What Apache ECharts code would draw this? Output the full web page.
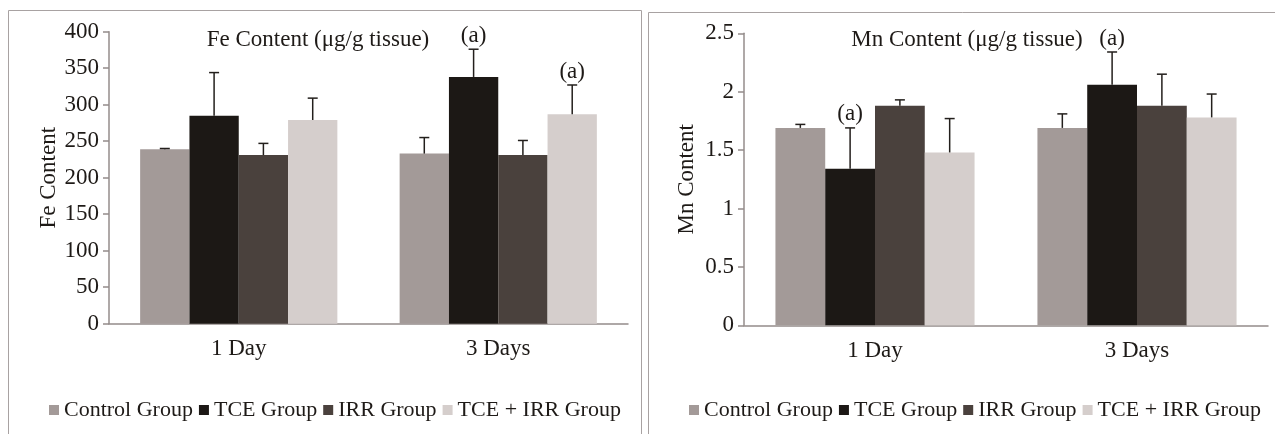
<!DOCTYPE html>
<html>
<head>
<meta charset="utf-8">
<script src="https://cdn.jsdelivr.net/npm/echarts@6/dist/echarts.min.js"></script>
<style>
  html, body { margin: 0; padding: 0; background: #ffffff; }
  #chart { width: 1275px; height: 434px; }
</style>
</head>
<body>
<div id="chart"></div>
<script>
// ---- Data ----
const categories = ['1 Day', '3 Days'];
const groups = ['Control Group', 'TCE Group', 'IRR Group', 'TCE + IRR Group'];

// Fe content (µg/g tissue)
const feControl = [239, 233];
const feTCE     = [285, 338];
const feIRR     = [231, 231];
const feTCEIRR  = [279, 287];
const feErrControl = [1, 22];
const feErrTCE     = [59, 38];
const feErrIRR     = [16, 20];
const feErrTCEIRR  = [30, 40];
// significance marks "(a)": [groupIndex, categoryIndex]
const feMarks = [[1, 1], [3, 1]];

// Mn content (µg/g tissue)
const mnControl = [1.69, 1.69];
const mnTCE     = [1.34, 2.06];
const mnIRR     = [1.88, 1.88];
const mnTCEIRR  = [1.48, 1.78];
const mnErrControl = [0.03, 0.12];
const mnErrTCE     = [0.35, 0.28];
const mnErrIRR     = [0.05, 0.27];
const mnErrTCEIRR  = [0.29, 0.20];
const mnMarks = [[1, 0], [1, 1]];

const feTicks = { min: 0, max: 400, interval: 50 };
const mnTicks = { min: 0, max: 2.5, interval: 0.5 };

// ---- Styles ----
const colors = ['#a39a98', '#1c1815', '#4a413d', '#d5cecc'];
const FONT = '"Liberation Serif", "Times New Roman", serif';
const FS = 23;
const TXT = '#1e1a17';
const AXIS = '#948c8b';
const GAP = 0.24;

const feVals = [feControl, feTCE, feIRR, feTCEIRR];
const feErrs = [feErrControl, feErrTCE, feErrIRR, feErrTCEIRR];
const mnVals = [mnControl, mnTCE, mnIRR, mnTCEIRR];
const mnErrs = [mnErrControl, mnErrTCE, mnErrIRR, mnErrTCEIRR];

function errData(vals, errs, marks) {
  const out = [];
  for (let g = 0; g < vals.length; g++) {
    for (let c = 0; c < categories.length; c++) {
      const m = marks.some(p => p[0] === g && p[1] === c) ? 1 : 0;
      out.push([c, vals[g][c], errs[g][c], g, m]);
    }
  }
  return out;
}

function renderErr(params, api) {
  const c = api.value(0), v = api.value(1), e = api.value(2), g = api.value(3), m = api.value(4);
  const cw = api.size([1, 0])[0];
  const barW = cw * (1 - GAP) / 4;
  const base = api.coord([c, v]);
  const top = api.coord([c, v + e]);
  const x = base[0] + (g - 1.5) * barW;
  const children = [
    { type: 'line', shape: { x1: x, y1: base[1], x2: x, y2: top[1] },
      style: { stroke: '#231f1c', lineWidth: 1.5 } },
    { type: 'line', shape: { x1: x - 5, y1: top[1], x2: x + 5, y2: top[1] },
      style: { stroke: '#231f1c', lineWidth: 1.5 } }
  ];
  if (m) {
    children.push({ type: 'text', x: x, y: top[1] - 2,
      style: { text: '(a)', fill: TXT, font: FS + 'px ' + FONT, textAlign: 'center', textVerticalAlign: 'bottom' } });
  }
  return { type: 'group', children: children };
}

function xAxisOpt(gridIndex) {
  return {
    type: 'category', gridIndex: gridIndex, data: categories,
    axisLine: { lineStyle: { color: AXIS, width: 1.5 } },
    axisTick: { show: false },
    axisLabel: { color: TXT, fontFamily: FONT, fontSize: FS, margin: 14 }
  };
}
function yAxisOpt(gridIndex, ticks, name) {
  return {
    type: 'value', gridIndex: gridIndex, min: ticks.min, max: ticks.max, interval: ticks.interval,
    name: name, nameLocation: 'middle', nameGap: 46,
    nameTextStyle: { color: TXT, fontFamily: FONT, fontSize: FS },
    axisLine: { show: true, lineStyle: { color: AXIS, width: 1.5 } },
    axisTick: { show: true, length: 6, lineStyle: { color: AXIS, width: 1.5 } },
    splitLine: { show: false },
    axisLabel: { color: TXT, fontFamily: FONT, fontSize: FS, margin: 10 }
  };
}

const series = [];
for (let g = 0; g < 4; g++) {
  series.push({ type: 'bar', name: groups[g], xAxisIndex: 0, yAxisIndex: 0, data: feVals[g],
    itemStyle: { color: colors[g] }, barGap: '0%', barCategoryGap: (GAP * 100) + '%' });
}
for (let g = 0; g < 4; g++) {
  series.push({ type: 'bar', name: groups[g], xAxisIndex: 1, yAxisIndex: 1, data: mnVals[g],
    itemStyle: { color: colors[g] }, barGap: '0%', barCategoryGap: (GAP * 100) + '%' });
}
series.push({ type: 'custom', xAxisIndex: 0, yAxisIndex: 0, z: 10, renderItem: renderErr,
  data: errData(feVals, feErrs, feMarks), silent: true });
series.push({ type: 'custom', xAxisIndex: 1, yAxisIndex: 1, z: 10, renderItem: renderErr,
  data: errData(mnVals, mnErrs, mnMarks), silent: true });

const legendBase = {
  data: groups, icon: 'rect', itemWidth: 10, itemHeight: 10, itemGap: 6, padding: 0,
  width: 620, orient: 'horizontal',
  textStyle: { color: TXT, fontFamily: FONT, fontSize: 22 }, selectedMode: false
};

const option = {
  backgroundColor: '#ffffff',
  animation: false,
  textStyle: { fontFamily: FONT },
  title: [
    { text: 'Fe Content (μg/g tissue)', left: 313, top: 23, textAlign: 'center',
      textStyle: { color: TXT, fontFamily: FONT, fontSize: FS, fontWeight: 'normal' } },
    { text: 'Mn Content (μg/g tissue)', left: 962, top: 23, textAlign: 'center',
      textStyle: { color: TXT, fontFamily: FONT, fontSize: FS, fontWeight: 'normal' } }
  ],
  legend: [
    Object.assign({}, legendBase, { left: 49, top: 399 }),
    Object.assign({}, legendBase, { left: 689, top: 399 })
  ],
  grid: [
    { left: 109, top: 31.7, width: 519, height: 292 },
    { left: 744, top: 33.3, width: 524, height: 292 }
  ],
  xAxis: [xAxisOpt(0), xAxisOpt(1)],
  yAxis: [yAxisOpt(0, feTicks, 'Fe Content'), yAxisOpt(1, mnTicks, 'Mn Content')],
  graphic: [
    { type: 'rect', shape: { x: 8.5, y: 10.5, width: 633, height: 440 },
      style: { fill: 'none', stroke: '#a8a2a2', lineWidth: 1 }, silent: true },
    { type: 'rect', shape: { x: 648.5, y: 12.5, width: 640, height: 440 },
      style: { fill: 'none', stroke: '#a8a2a2', lineWidth: 1 }, silent: true }
  ],
  series: series
};

const chart = echarts.init(document.getElementById('chart'), null, { renderer: 'canvas' });
chart.setOption(option);
</script>
</body>
</html>
